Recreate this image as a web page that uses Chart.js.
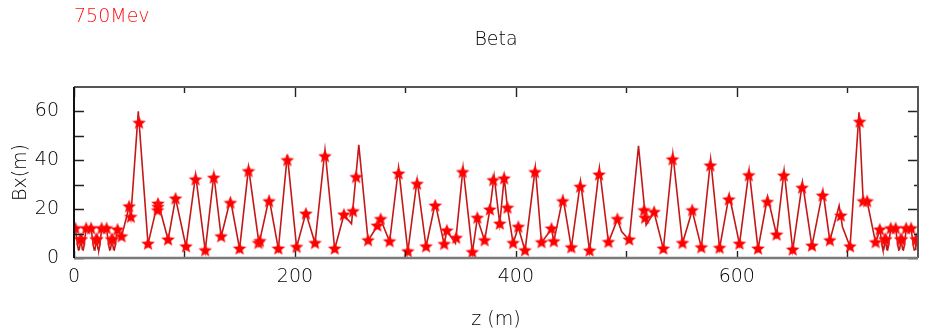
<!DOCTYPE html>
<html>
<head>
<meta charset="utf-8">
<script src="https://cdn.jsdelivr.net/npm/chart.js@4/dist/chart.umd.min.js"></script>
<style>
html,body{margin:0;padding:0;background:#fff;}
#wrap{width:926px;height:335px;}
</style>
</head>
<body>
<div id="wrap"><canvas id="c" width="926" height="335"></canvas></div>
<script>
// ---- data ----
const lineZ = [0,1.3,2.3,3.3,4.1,4.8,5.5,6.2,6.9,7.6,8.3,9.1,10.0,11.0,15.5,16.5,17.5,18.3,19.0,19.7,20.4,21.1,21.8,22.5,23.3,24.2,25.0,29.5,30.5,31.5,32.3,33.0,33.7,34.4,35.1,35.8,36.5,37.3,38.3,39.4,43.0,49.9,51.4,58.2,67.0,76.0,85.2,91.9,101.4,110.1,118.8,126.6,133.2,141.6,149.9,158.0,167.5,176.6,185.0,193.1,201.5,209.9,218.2,227.2,236.0,244.3,251.2,257.8,266.2,274.6,277.6,285.7,293.8,302.2,310.6,318.7,327.0,335.1,337.5,345.3,352.2,360.6,365.1,371.7,376.4,380.3,385.4,389.4,392.4,397.5,402.2,408.3,417.6,423.2,432.2,434.3,442.6,450.2,458.5,466.7,475.6,483.8,491.9,495.7,502.6,511.0,517.9,525.1,533.5,542.1,550.8,559.6,567.9,576.3,584.4,593.1,602.4,611.1,619.2,627.9,636.0,642.8,650.6,659.4,668.0,677.9,684.2,692.6,695.6,702.5,710.6,714.4,718.0,725.6,729.4,730.5,731.5,732.3,733.0,733.7,734.4,735.1,735.8,736.5,737.3,738.3,739.3,743.8,744.8,745.8,746.6,747.3,748.0,748.7,749.4,750.1,750.8,751.6,752.5,753.3,757.8,758.8,759.8,760.6,761.3,762.0,762.7,763.4,764.1,764.8];
const lineBeta = [12,12,8.5,5,3.3,3.5,5.5,8.7,5.5,3.5,3.3,5,8.5,12,12,8.5,5,3.3,3.5,5.5,8.7,5.5,3.5,3.3,5,8.5,12,12,8.5,5,3.3,3.5,5.5,8.7,5.5,3.5,3.3,5,8.5,11.5,8.7,21,16.7,60,5.7,23.1,7.4,24.5,4.6,34,3,34,8.7,24,3.7,37,5.8,24.5,3.7,42.2,4.4,18.5,6,44.3,3.7,17.6,14,46.3,7.1,13.1,15.8,6.7,37,2.6,32,4.6,22.5,5.6,11.1,6,37,2.3,16.3,7.1,19.7,33.5,13.9,33,20.4,6,12.6,3,37,6.3,11.9,6.7,24.8,4.2,31.4,2.9,36.9,6.4,15.8,10.8,7.4,45.9,13.5,18.7,3.7,42.6,6,19.4,4.2,40.4,4,25.9,5.7,36,3.7,25.1,9.4,35.8,3.3,31,4.9,27.6,7.1,21.4,12.8,4.6,59.6,23.1,23.1,6.3,11.5,8.5,5,3.3,3.5,5.5,8.7,5.5,3.5,3.3,5,8.5,12,12,8.5,5,3.3,3.5,5.5,8.7,5.5,3.5,3.3,5,8.5,12,12,8.5,5,3.3,3.5,5.5,8.7,5.5,3.5,3.3];

const starZ = [1.3,5.8,6.6,11.0,15.5,20.0,20.8,25.0,29.5,34.0,34.8,39.4,43.0,49.9,51.4,58.9,67.0,76.0,76.0,75.7,85.2,91.9,101.4,110.0,118.8,126.5,133.2,141.6,149.9,158.0,167.0,168.3,176.6,185.0,193.1,201.5,209.9,218.2,227.2,236.0,244.3,252.6,255.4,266.2,274.6,277.6,285.7,293.8,302.2,310.6,318.7,327.0,335.1,337.5,346.0,351.8,360.6,365.1,371.7,376.4,379.5,385.4,389.4,392.4,397.5,402.2,408.3,417.3,423.2,432.2,434.3,442.4,450.2,458.2,466.7,475.3,483.8,491.9,502.6,516.1,517.0,525.1,533.5,541.8,550.8,559.6,567.9,576.0,584.4,592.8,602.4,610.8,619.2,627.6,636.0,642.5,650.6,659.1,668.0,677.6,684.2,694.1,702.5,711.2,714.4,718.0,725.6,729.4,734.0,734.8,739.3,743.8,748.3,749.1,753.3,757.8,762.3,763.1];
const starBeta = [12,7.5,7.5,12,12,7.5,7.5,12,12,7.5,7.5,11.5,8.7,21,16.7,55.2,5.7,22.1,20.8,19.4,7.4,24.2,4.6,32,3,32.7,8.7,22.4,3.7,35.4,6,6.8,23.1,3.7,39.9,4.4,18,6,41.5,3.7,17.6,19,33,7.1,13.1,15.8,6.7,34.4,2.6,30.2,4.6,21.3,5.6,11.1,8.1,35,2.3,16.3,7.1,19.7,31.7,13.9,32.4,20.4,6,12.6,3,35,6.3,11.9,6.7,23.1,4.2,29,2.9,34,6.4,15.8,7.4,19.4,16.3,18.7,3.7,40.2,6,19.4,4.2,37.7,4,23.8,5.7,33.7,3.7,22.8,9.4,33.6,3.3,28.6,4.9,25.4,7.1,17.2,4.6,55.6,23.1,23.1,6.3,11.5,7.5,7.5,12,12,7.5,7.5,12,12,7.5,7.5];

const xTickValues = [0,200,400,600];
const yTickValues = [0,20,40,60];
const xMinorValues = [100,300,500,700];
const yMinorValues = [10,30,50];

const titleText = '750Mev';
const subtitleText = 'Beta';
const xTitle = 'z (m)';
const yTitle = 'Bx(m)';

// ---- star marker ----
function makeStar(r){
  const s = Math.ceil(r*2+2);
  const c = document.createElement('canvas');
  c.width = s; c.height = s;
  const g = c.getContext('2d');
  g.beginPath();
  for(let i=0;i<10;i++){
    const a = -Math.PI/2 + i*Math.PI/5;
    const rr = (i%2) ? r*0.45 : r;
    g.lineTo(s/2 + rr*Math.cos(a), s/2 + rr*Math.sin(a));
  }
  g.closePath();
  g.fillStyle = '#ff0000';
  g.fill();
  g.strokeStyle = 'rgba(255,60,60,0.6)';
  g.lineWidth = 0.6;
  g.stroke();
  return c;
}
const starImg = makeStar(6.8);

const FONT = "'DejaVu Sans', 'Liberation Sans', sans-serif";
const f = (size) => ({family: FONT, size: size, weight: '200'});

const framePlugin = {
  id: 'frame',
  afterDatasetsDraw(chart){
    const {ctx, chartArea: a, scales: {x, y}} = chart;
    ctx.save();
    ctx.strokeStyle = '#222';
    ctx.lineWidth = 1.4;
    ctx.beginPath();
    xTickValues.forEach(v => {
      const px = Math.round(x.getPixelForValue(v)) + 0.5;
      ctx.moveTo(px, a.top); ctx.lineTo(px, a.top + 10);
      ctx.moveTo(px, a.bottom); ctx.lineTo(px, a.bottom - 7);
    });
    xMinorValues.forEach(v => {
      const px = Math.round(x.getPixelForValue(v)) + 0.5;
      ctx.moveTo(px, a.top); ctx.lineTo(px, a.top + 6);
      ctx.moveTo(px, a.bottom); ctx.lineTo(px, a.bottom - 7);
    });
    yTickValues.forEach(v => {
      const py = Math.round(y.getPixelForValue(v)) + 0.5;
      ctx.moveTo(a.left, py); ctx.lineTo(a.left + 10, py);
      ctx.moveTo(a.right, py); ctx.lineTo(a.right - 10, py);
    });
    yMinorValues.forEach(v => {
      const py = Math.round(y.getPixelForValue(v)) + 0.5;
      ctx.moveTo(a.left, py); ctx.lineTo(a.left + 10, py);
      ctx.moveTo(a.right, py); ctx.lineTo(a.right - 4, py);
    });
    ctx.stroke();
    ctx.lineWidth = 2;
    ctx.strokeStyle = '#555';
    ctx.beginPath();
    ctx.moveTo(a.left, a.top); ctx.lineTo(a.right, a.top);
    ctx.lineTo(a.right, a.bottom);
    ctx.stroke();
    ctx.strokeStyle = '#7a7a7a';
    ctx.lineWidth = 2.4;
    ctx.beginPath();
    ctx.moveTo(a.left, a.bottom); ctx.lineTo(a.right, a.bottom);
    ctx.stroke();
    ctx.strokeStyle = '#111';
    ctx.lineWidth = 2;
    ctx.beginPath();
    ctx.moveTo(a.left, a.top); ctx.lineTo(a.left, a.bottom);
    ctx.stroke();
    ctx.restore();
  }
};

new Chart(document.getElementById('c'), {
  type: 'scatter',
  data: {
    datasets: [
      {
        data: lineZ.map((z,i) => ({x: z, y: lineBeta[i]})),
        showLine: true,
        borderColor: '#c41818',
        borderWidth: 1.6,
        pointRadius: 0,
        tension: 0,
        order: 2
      },
      {
        data: starZ.map((z,i) => ({x: z, y: starBeta[i]})),
        showLine: false,
        pointStyle: starImg,
        pointRadius: 7,
        order: 1
      }
    ]
  },
  options: {
    responsive: false,
    animation: false,
    events: [],
    layout: {padding: {left: 0, right: 1, top: 0, bottom: 0}},
    plugins: {
      legend: {display: false},
      tooltip: {enabled: false},
      title: {
        display: true, text: titleText, color: '#ff1010', align: 'start', fullSize: false,
        font: f(19), padding: {top: 6, bottom: 0}
      },
      subtitle: {
        display: true, text: subtitleText, color: '#000', align: 'center', fullSize: false,
        font: f(19), padding: {top: 0, bottom: 35.4}
      }
    },
    scales: {
      x: {
        type: 'linear', min: 0, max: 764,
        afterBuildTicks: s => { s.ticks = xTickValues.map(v => ({value: v})); },
        afterFit: s => { s.height = 77; s.paddingLeft = 0; s.paddingRight = 0; },
        grid: {display: false, drawTicks: false},
        border: {display: false},
        ticks: {font: f(19), color: '#000', padding: 8, maxRotation: 0},
        title: {display: true, text: xTitle, font: f(19), color: '#000', padding: {top: 4, bottom: 4}}
      },
      y: {
        type: 'linear', min: 0, max: 70,
        afterBuildTicks: s => { s.ticks = yTickValues.map(v => ({value: v})); },
        afterFit: s => { s.width = 74; s.paddingTop = 0; s.paddingBottom = 0; },
        grid: {display: false, drawTicks: false},
        border: {display: false},
        ticks: {font: f(19), color: '#000', padding: 15},
        title: {display: true, text: yTitle, font: f(19), color: '#000', padding: {top: 10, bottom: 4}}
      }
    }
  },
  plugins: [framePlugin]
});
</script>
</body>
</html>
